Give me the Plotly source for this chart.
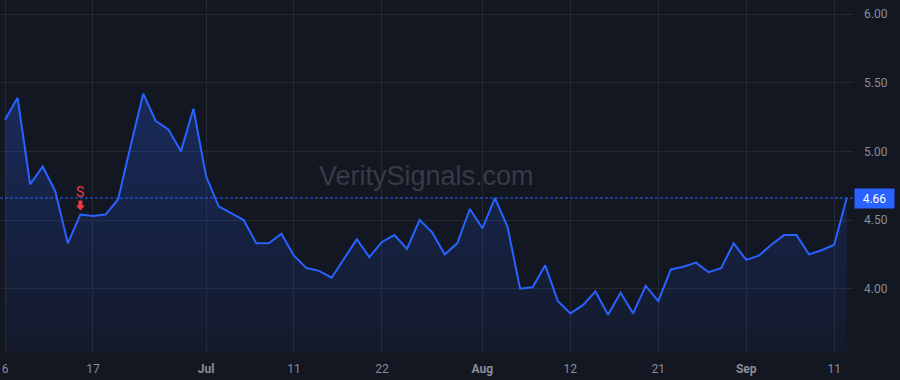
import pandas as pd
import plotly.graph_objects as go

# ---- data -------------------------------------------------------------
dates = [d.strftime("%Y-%m-%d") for d in pd.bdate_range(
    "2024-06-06", "2024-09-12", freq="C",
    holidays=["2024-06-19", "2024-07-04", "2024-09-02"])]

values = [
    5.23, 5.39, 4.76, 4.89, 4.71, 4.33, 4.54, 4.53, 4.54, 4.65,
    5.04, 5.42, 5.22, 5.16, 5.00, 5.31, 4.82, 4.60, 4.55, 4.50,
    4.33, 4.33, 4.40, 4.24, 4.15, 4.13, 4.08, 4.22, 4.36, 4.23,
    4.34, 4.39, 4.29, 4.50, 4.41, 4.25, 4.33, 4.58, 4.44, 4.66,
    4.45, 4.00, 4.01, 4.17, 3.91, 3.82, 3.88, 3.98, 3.81, 3.97,
    3.82, 4.02, 3.91, 4.14, 4.16, 4.19, 4.12, 4.15, 4.33, 4.21,
    4.24, 4.32, 4.39, 4.39, 4.25, 4.28, 4.32, 4.66,
]

tick_dates = ["2024-06-06", "2024-06-17", "2024-07-01", "2024-07-11",
              "2024-07-22", "2024-08-01", "2024-08-12", "2024-08-21",
              "2024-08-30", "2024-09-11"]
tick_labels = ["6", "17", "<b>Jul</b>", "11", "22", "<b>Aug</b>", "12", "21",
               "<b>Sep</b>", "11"]

y_ticks = [4.0, 4.5, 5.0, 5.5, 6.0]

signal_dates = ["2024-06-14"]
signal_labels = ["S"]

watermark = "VeritySignals.com"

# ---- style ------------------------------------------------------------
BG = "#131722"
GRID = "#242833"
LINE = "#2962ff"
TXT = "#8a8d96"
RED = "#f23645"
FONT = "Roboto, Liberation Sans, sans-serif"
# down-arrow glyph in pixels relative to the signalled point
ARROW_PATH = "M -2,14 L 2,14 L 2,9 L 4.5,9 L 0,4 L -4.5,9 L -2,9 Z"

last_price = values[-1]

fig = go.Figure()
fig.add_trace(go.Scatter(
    x=dates, y=values, mode="lines",
    line=dict(color=LINE, width=2),
    fill="tozeroy",
    fillgradient=dict(
        type="vertical", start=3.54, stop=max(values),
        colorscale=[[0, "rgba(41,98,255,0.04)"], [1, "rgba(41,98,255,0.26)"]],
    ),
    hoverinfo="skip", showlegend=False,
))

# last price dotted line
fig.add_shape(type="line", xref="paper", x0=0, x1=1, yref="y",
              y0=last_price, y1=last_price,
              line=dict(color=LINE, width=1, dash="3px,2px"), layer="above")

# last price label
fig.add_annotation(xref="paper", x=1, xanchor="left", yref="y", y=last_price,
                   yanchor="middle", text=f"{last_price:.2f}", showarrow=False,
                   bgcolor=LINE, font=dict(color="white", size=12, family=FONT),
                   width=37, height=17, borderpad=1, align="center", xshift=1)

# signals
for d, lab in zip(signal_dates, signal_labels):
    yv = values[dates.index(d)]
    fig.add_annotation(x=d, y=yv, text=lab, showarrow=False, yanchor="middle",
                       yshift=23, font=dict(color=RED, size=14, family=FONT))
    fig.add_shape(type="path", xref="x", yref="y",
                  xsizemode="pixel", ysizemode="pixel",
                  xanchor=d, yanchor=yv, path=ARROW_PATH,
                  fillcolor=RED, line=dict(width=0), layer="above")

# watermark
fig.add_annotation(xref="paper", yref="paper", x=0.5, y=0.5, text=watermark,
                   showarrow=False, xanchor="center", yanchor="middle",
                   font=dict(color="#373b46", size=27,
                             family="Liberation Sans, Arial, sans-serif"))

fig.update_layout(
    width=900, height=380,
    margin=dict(l=0, r=47, t=0, b=28),
    paper_bgcolor=BG, plot_bgcolor=BG,
    font=dict(family=FONT, size=12, color=TXT),
    xaxis=dict(type="category", range=[-0.4, 67.5],
               tickmode="array", tickvals=tick_dates, ticktext=tick_labels,
               showgrid=True, gridcolor=GRID, gridwidth=1,
               zeroline=False, showline=False, ticks="",
               tickfont=dict(color=TXT, size=12), ticklabelstandoff=8),
    yaxis=dict(side="right", range=[3.539, 6.102], tickmode="array",
               tickvals=y_ticks, tickformat=".2f",
               showgrid=True, gridcolor=GRID, gridwidth=1,
               zeroline=False, showline=False, ticks="",
               tickfont=dict(color=TXT, size=12), ticklabelstandoff=10),
    hovermode=False,
)

fig.write_html("out.html")
